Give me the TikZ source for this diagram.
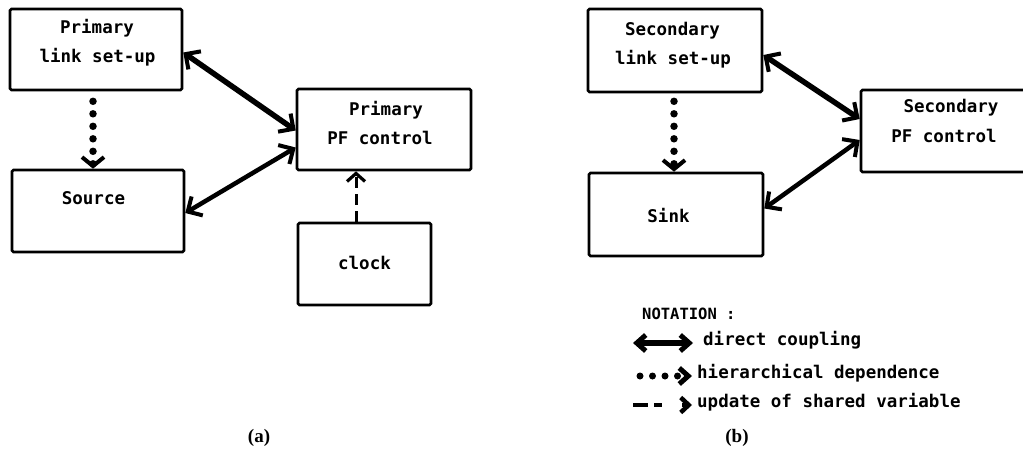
\documentclass[tikz,border=0pt]{standalone}
\usepackage{fontspec}
\setmonofont{DejaVu Sans Mono}
\newfontfamily\capfont{Liberation Serif}
\usetikzlibrary{arrows.meta}
\tikzset{
  box/.style={draw, line width=2.6pt, rounded corners=1.5pt, inner sep=0pt},
  lbl/.style={font=\ttfamily\bfseries\fontsize{17.5}{20}\selectfont, anchor=mid, inner sep=0pt},
  leg/.style={font=\ttfamily\bfseries\fontsize{17.5}{20}\selectfont, anchor=mid west, inner sep=0pt},
  subcap/.style={font=\capfont\bfseries\fontsize{19}{21}\selectfont, inner sep=0pt},
  barb/.tip={Straight Barb[length=11pt, width=22pt, line width=4pt]},
  couple/.style={line width=5.5pt, {barb}-{barb}},
  couplethin/.style={line width=4.5pt, {barb}-{barb}},
  hier/.style={line width=7.5pt, line cap=round, dash pattern=on 0pt off 12.5pt,
    -{Straight Barb[length=9pt, width=22pt, line width=4pt]}},
  upd/.style={line width=3pt, dash pattern=on 11pt off 6pt,
    -{Straight Barb[length=8pt, width=18pt, line width=3.2pt]}},
  legtip/.tip={Straight Barb[length=9pt, width=16pt, line width=5pt]},
}
\begin{document}
\begin{tikzpicture}[x=1pt, y=-1pt]
\useasboundingbox (0,0) rectangle (1023,450);
\clip (0,0) rectangle (1023,450);

% ---------- (a) primary side ----------
\node[box, minimum width=172pt, minimum height=81pt] (pls) at (96,49.5) {};
\node[lbl] (plsA) at (97,31) {Primary};
\node[lbl] (plsB) at (97.5,60) {link set-up};

\node[box, minimum width=172pt, minimum height=82pt] (src) at (98,211) {};
\node[lbl] (srcA) at (93.5,202) {Source};

\node[box, minimum width=174pt, minimum height=81pt] (ppf) at (384,129.5) {};
\node[lbl] (ppfA) at (386,113) {Primary};
\node[lbl] (ppfB) at (380,142) {PF control};

\node[box, minimum width=133pt, minimum height=82pt] (clk) at (364.5,264) {};
\node[lbl] (clkA) at (364.5,267) {clock};

\draw[couple] ([yshift=-3pt]pls.east) -- ([yshift=-1pt]ppf.west);
\draw[couplethin] ([yshift=-2pt]src.east) -- ([yshift=-18pt]ppf.west);
\draw[hier] ([xshift=-3pt, yshift=-10pt]pls.south) -- ([xshift=-5pt]src.north);
\draw[upd] ([xshift=-8.5pt]clk.north) -- ([xshift=-8.5pt]clk.north |- ppf.south);

% ---------- (b) secondary side ----------
\node[box, minimum width=174pt, minimum height=83pt] (sls) at (675,50.5) {};
\node[lbl] (slsA) at (672.5,33) {Secondary};
\node[lbl] (slsB) at (673,62) {link set-up};

\node[box, minimum width=174pt, minimum height=83pt] (snk) at (676,214.5) {};
\node[lbl] (snkA) at (668.5,220) {Sink};

\node[box, minimum width=174pt, minimum height=82pt] (spf) at (948,131) {};
\node[lbl] (spfA) at (951,110) {Secondary};
\node[lbl] (spfB) at (944,140) {PF control};

\draw[couple] ([yshift=-4.5pt]sls.east) -- ([yshift=12pt]spf.west);
\draw[couplethin] ([yshift=6pt]snk.east) -- ([yshift=-9pt]spf.west);
\draw[hier] ([xshift=-1pt, yshift=-8pt]sls.south) -- ([xshift=-2pt]snk.north);

% ---------- notation ----------
\node[font=\ttfamily\bfseries\fontsize{15.5}{18}\selectfont, anchor=mid west, inner sep=0pt] (nt) at (642,317) {NOTATION :};

\coordinate (c1a) at (633,343);
\coordinate (c1b) at (693,343);
\draw[line width=5.5pt, {legtip}-{legtip}] (c1a) -- (c1b);
\node[leg] (t1) at (703,343) {direct coupling};

\coordinate (c2a) at (640,376);
\coordinate (c2b) at (692,376);
\draw[line width=7pt, line cap=round, dash pattern=on 0pt off 12.5pt,
  -{legtip}] (c2a) -- (c2b);
\node[leg] (t2) at (697,376) {hierarchical dependence};

\coordinate (c3a) at (633,405);
\coordinate (c3b) at (692,405);
\draw[line width=4pt, dash pattern=on 15pt off 6pt on 8pt off 20pt,
  -{Straight Barb[length=8pt, width=15pt, line width=4.5pt]}] (c3a) -- (c3b);
\node[leg] (t3) at (697,405) {update of shared variable};

% ---------- captions ----------
\node[subcap] (capa) at (259,438) {(a)};
\node[subcap] (capb) at (737,438) {(b)};
\end{tikzpicture}
\end{document}
